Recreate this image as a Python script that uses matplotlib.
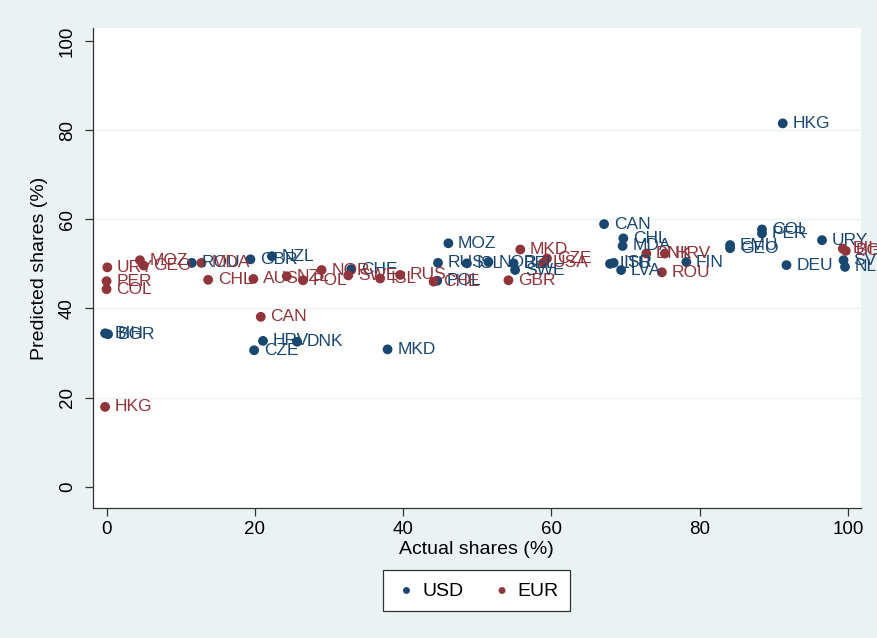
import matplotlib
matplotlib.use('Agg')
import matplotlib.pyplot as plt

# USD series: country code, actual share, predicted share
usd_codes = ['HKG', 'CAN', 'CHL', 'MDA', 'ISR', 'LTU', 'LVA', 'FIN', 'EMU', 'GEO',
             'COL', 'PER', 'URY', 'DEU', 'SVK', 'NLD', 'MOZ', 'RUS', 'ISL', 'NOR',
             'BEL', 'SWE', 'CHE', 'POL', 'GBR', 'NZL', 'ROU', 'BIH', 'BGR', 'CZE',
             'HRV', 'DNK', 'MKD']
usd_actual = [91.2, 67.1, 69.7, 69.6, 68.4, 67.9, 69.4, 78.2, 84.1, 84.1,
              88.4, 88.4, 96.5, 91.7, 99.4, 99.6, 46.1, 44.7, 48.6, 51.5,
              54.9, 55.1, 33.0, 44.6, 19.4, 22.3, 11.5, -0.2, 0.2, 19.9,
              21.1, 25.7, 37.9]
usd_pred = [81.5, 58.9, 55.7, 54.0, 50.2, 50.0, 48.6, 50.4, 54.2, 53.5,
            57.7, 56.8, 55.3, 49.7, 50.8, 49.3, 54.6, 50.2, 50.1, 50.4,
            50.1, 48.6, 48.8, 46.2, 51.0, 51.7, 50.2, 34.4, 34.2, 30.6,
            32.7, 32.5, 30.8]

# EUR series
eur_codes = ['URY', 'PER', 'COL', 'MOZ', 'GEO', 'MDA', 'CHL', 'AUS', 'NZL', 'POL',
             'NOR', 'SWE', 'ISL', 'RUS', 'CHE', 'GBR', 'MKD', 'CZE', 'USA', 'DNK',
             'HRV', 'ROU', 'BIH', 'BGR', 'CAN', 'HKG']
eur_actual = [0.1, 0.0, 0.0, 4.5, 5.0, 12.8, 13.7, 19.8, 24.3, 26.5,
              29.0, 32.6, 36.9, 39.6, 44.1, 54.2, 55.8, 59.4, 58.9, 72.8,
              75.3, 74.9, 99.3, 99.7, 20.8, -0.2]
eur_pred = [49.2, 46.1, 44.3, 50.8, 49.6, 50.2, 46.4, 46.6, 47.2, 46.3,
            48.6, 47.4, 46.7, 47.5, 46.0, 46.3, 53.2, 51.2, 50.2, 52.3,
            52.3, 48.1, 53.4, 52.9, 38.1, 17.9]

NAVY = '#1a476f'
MAROON = '#90353b'
BG = '#eaf2f3'

plt.rcParams['font.family'] = ['Liberation Sans', 'DejaVu Sans']

fig = plt.figure(figsize=(8.78, 6.38), dpi=100, facecolor=BG)
ax = fig.add_axes([0.1056, 0.2038, 0.875, 0.752])
ax.set_facecolor('white')

for codes, xs, ys, color, name in [(usd_codes, usd_actual, usd_pred, NAVY, 'USD'),
                                   (eur_codes, eur_actual, eur_pred, MAROON, 'EUR')]:
    ax.scatter(xs, ys, s=50, color=color, edgecolors='none', zorder=3, label=name)
    for c, x, y in zip(codes, xs, ys):
        ax.annotate(c, (x, y), xytext=(7, 0), textcoords='offset points',
                    ha='left', va='center', fontsize=12.5, color=color,
                    zorder=4, annotation_clip=False)

ax.set_xlim(-1.87, 101.75)
ax.set_ylim(-4.78, 102.85)
ax.set_xticks([0, 20, 40, 60, 80, 100])
ax.set_yticks([0, 20, 40, 60, 80, 100])
for g in [20, 40, 60, 80]:
    ax.axhline(g, color=BG, lw=1.0, zorder=0)

for side in ['top', 'right']:
    ax.spines[side].set_visible(False)
for side in ['left', 'bottom']:
    ax.spines[side].set_color('#333333')
    ax.spines[side].set_linewidth(0.9)

ax.tick_params(axis='both', direction='out', length=6, width=0.9, color='#333333',
               labelsize=13.5, labelcolor='black')
ax.tick_params(axis='y', pad=6)
plt.setp(ax.get_yticklabels(), rotation=90, va='center')

ax.set_xlabel('Actual shares (%)', fontsize=14, labelpad=2)
ax.set_ylabel('Predicted shares (%)', fontsize=14, labelpad=8)

leg = fig.legend(loc='center', bbox_to_anchor=(0.543, 0.074), ncol=2,
                 fontsize=14, markerscale=0.7, handletextpad=0.2,
                 handlelength=1.2, columnspacing=1.4, borderpad=0.6,
                 fancybox=False, framealpha=1, edgecolor='#333333')
leg.get_frame().set_linewidth(0.9)

plt.savefig('out.png', dpi=100, facecolor=BG)
